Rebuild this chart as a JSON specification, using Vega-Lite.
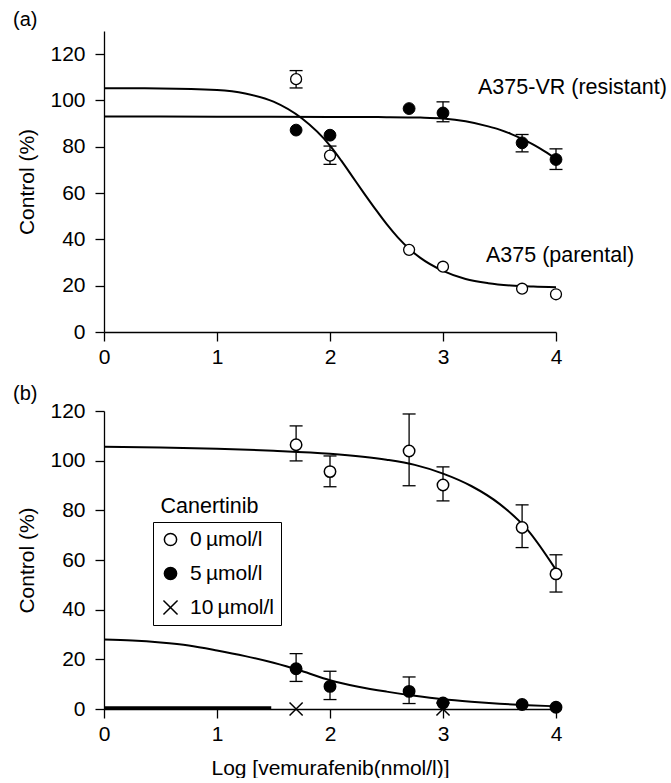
{
  "$schema": "https://vega.github.io/schema/vega-lite/v6.json",
  "padding": {"left": 13, "top": 10, "right": 0, "bottom": 0},
  "spacing": 17,
  "resolve": {"legend": {"shape": "independent", "fill": "independent", "stroke": "independent"}, "scale": {"shape": "independent", "fill": "independent", "stroke": "independent"}},
  "config": {
    "font": "Liberation Sans",
    "view": {"stroke": null},
    "axis": {"domainColor": "black", "domainWidth": 1.3, "tickColor": "black", "tickWidth": 1.3, "tickSize": 9, "labelFontSize": 21, "labelColor": "black", "titleFontSize": 21, "titleFontWeight": "normal", "titleColor": "black", "grid": false, "labelFont": "Liberation Sans", "titleFont": "Liberation Sans"},
    "axisY": {"labelPadding": 10, "titlePadding": 12},
    "axisX": {"labelPadding": 5, "titlePadding": 13, "labelFlush": false, "format": "d"},
    "title": {"fontSize": 20, "fontWeight": "normal", "anchor": "start", "color": "black", "font": "Liberation Sans"},
    "text": {"font": "Liberation Sans", "fontSize": 21.5, "color": "black"}
  },
  "datasets": {
    "ptsA": [
      {"series": "parental", "x": 1.7, "y": 109.2, "ylo": 105.4, "yhi": 112.9},
      {"series": "parental", "x": 2.0, "y": 76.2, "ylo": 72.4, "yhi": 80.3},
      {"series": "parental", "x": 2.7, "y": 35.5},
      {"series": "parental", "x": 3.0, "y": 28.2},
      {"series": "parental", "x": 3.7, "y": 18.7},
      {"series": "parental", "x": 4.0, "y": 16.3},
      {"series": "resistant", "x": 1.7, "y": 87.2},
      {"series": "resistant", "x": 2.0, "y": 85.0},
      {"series": "resistant", "x": 2.7, "y": 96.5},
      {"series": "resistant", "x": 3.0, "y": 94.6, "ylo": 90.8, "yhi": 99.4},
      {"series": "resistant", "x": 3.7, "y": 81.7, "ylo": 77.8, "yhi": 85.3},
      {"series": "resistant", "x": 4.0, "y": 74.5, "ylo": 70.2, "yhi": 79.1}
    ],
    "curveA": [
      {"series": "parental", "x": 0, "y": 105.3},
      {"series": "parental", "x": 0.5, "y": 105.2},
      {"series": "parental", "x": 1.0, "y": 104.5},
      {"series": "parental", "x": 1.25, "y": 103.0},
      {"series": "parental", "x": 1.5, "y": 99.5},
      {"series": "parental", "x": 1.75, "y": 92.3},
      {"series": "parental", "x": 2.0, "y": 80.5},
      {"series": "parental", "x": 2.1, "y": 74.0},
      {"series": "parental", "x": 2.2, "y": 67.0},
      {"series": "parental", "x": 2.3, "y": 60.0},
      {"series": "parental", "x": 2.4, "y": 53.2},
      {"series": "parental", "x": 2.5, "y": 46.7},
      {"series": "parental", "x": 2.6, "y": 40.9},
      {"series": "parental", "x": 2.7, "y": 36.0},
      {"series": "parental", "x": 2.8, "y": 32.0},
      {"series": "parental", "x": 3.0, "y": 26.4},
      {"series": "parental", "x": 3.2, "y": 22.9},
      {"series": "parental", "x": 3.4, "y": 21.1},
      {"series": "parental", "x": 3.6, "y": 20.1},
      {"series": "parental", "x": 3.8, "y": 19.6},
      {"series": "parental", "x": 4.0, "y": 19.3},
      {"series": "resistant", "x": 0, "y": 93.1},
      {"series": "resistant", "x": 1.0, "y": 93.0},
      {"series": "resistant", "x": 2.0, "y": 92.9},
      {"series": "resistant", "x": 2.5, "y": 92.8},
      {"series": "resistant", "x": 2.8, "y": 92.6},
      {"series": "resistant", "x": 3.0, "y": 92.2},
      {"series": "resistant", "x": 3.2, "y": 91.0},
      {"series": "resistant", "x": 3.4, "y": 88.8},
      {"series": "resistant", "x": 3.5, "y": 87.4},
      {"series": "resistant", "x": 3.6, "y": 85.6},
      {"series": "resistant", "x": 3.7, "y": 83.4},
      {"series": "resistant", "x": 3.8, "y": 80.9},
      {"series": "resistant", "x": 3.9, "y": 78.0},
      {"series": "resistant", "x": 4.0, "y": 74.8}
    ],
    "labelsA": [
      {"x": 3.31, "y": 105.2, "label": "A375-VR (resistant)"},
      {"x": 3.38, "y": 32.8, "label": "A375 (parental)"}
    ],
    "ptsB": [
      {"canertinib": "10\u2009µmol/l", "x": 1.7, "y": 0},
      {"canertinib": "10\u2009µmol/l", "x": 3.0, "y": 0},
      {"canertinib": "0\u2009µmol/l", "x": 1.7, "y": 106.4, "ylo": 99.9, "yhi": 114.0},
      {"canertinib": "0\u2009µmol/l", "x": 2.0, "y": 95.6, "ylo": 89.5, "yhi": 101.9},
      {"canertinib": "0\u2009µmol/l", "x": 2.7, "y": 103.9, "ylo": 89.9, "yhi": 118.8},
      {"canertinib": "0\u2009µmol/l", "x": 3.0, "y": 90.2, "ylo": 83.8, "yhi": 97.5},
      {"canertinib": "0\u2009µmol/l", "x": 3.7, "y": 73.1, "ylo": 65.0, "yhi": 82.2},
      {"canertinib": "0\u2009µmol/l", "x": 4.0, "y": 54.4, "ylo": 47.1, "yhi": 62.1},
      {"canertinib": "5\u2009µmol/l", "x": 1.7, "y": 16.2, "ylo": 11.1, "yhi": 22.3},
      {"canertinib": "5\u2009µmol/l", "x": 2.0, "y": 9.1, "ylo": 3.8, "yhi": 15.2},
      {"canertinib": "5\u2009µmol/l", "x": 2.7, "y": 7.1, "ylo": 2.2, "yhi": 12.9},
      {"canertinib": "5\u2009µmol/l", "x": 3.0, "y": 2.4},
      {"canertinib": "5\u2009µmol/l", "x": 3.7, "y": 1.8},
      {"canertinib": "5\u2009µmol/l", "x": 4.0, "y": 0.7}
    ],
    "curveB": [
      {"series": "c0", "x": 0, "y": 105.6},
      {"series": "c0", "x": 0.5, "y": 105.3},
      {"series": "c0", "x": 1.0, "y": 104.8},
      {"series": "c0", "x": 1.5, "y": 104.0},
      {"series": "c0", "x": 2.0, "y": 102.8},
      {"series": "c0", "x": 2.5, "y": 100.4},
      {"series": "c0", "x": 2.75, "y": 98.3},
      {"series": "c0", "x": 3.0, "y": 94.8},
      {"series": "c0", "x": 3.25, "y": 89.8},
      {"series": "c0", "x": 3.5, "y": 82.6},
      {"series": "c0", "x": 3.75, "y": 72.0},
      {"series": "c0", "x": 4.0, "y": 56.0},
      {"series": "c5", "x": 0, "y": 28.0},
      {"series": "c5", "x": 0.25, "y": 27.6},
      {"series": "c5", "x": 0.5, "y": 26.8},
      {"series": "c5", "x": 0.75, "y": 25.6},
      {"series": "c5", "x": 1.0, "y": 23.6},
      {"series": "c5", "x": 1.25, "y": 21.3},
      {"series": "c5", "x": 1.5, "y": 18.6},
      {"series": "c5", "x": 1.75, "y": 15.3},
      {"series": "c5", "x": 2.0, "y": 11.6},
      {"series": "c5", "x": 2.25, "y": 9.0},
      {"series": "c5", "x": 2.5, "y": 7.0},
      {"series": "c5", "x": 2.75, "y": 5.3},
      {"series": "c5", "x": 3.0, "y": 3.9},
      {"series": "c5", "x": 3.25, "y": 2.9},
      {"series": "c5", "x": 3.5, "y": 2.1},
      {"series": "c5", "x": 3.75, "y": 1.5},
      {"series": "c5", "x": 4.0, "y": 1.1}
    ],
    "curveB10": [
      {"x": 0, "y": 0.4},
      {"x": 1.48, "y": 0.4}
    ],
    "labelsB": [
      {"x": 0.5, "y": 81.5, "label": "Canertinib"}
    ]
  },
  "vconcat": [
    {
      "width": 452,
      "height": 301,
      "title": {"text": "(a)", "dx": -91, "frame": "group", "offset": 1},
      "layer": [
        {
          "data": {"name": "curveA"},
          "mark": {"type": "line", "color": "black", "strokeWidth": 2, "interpolate": "monotone"},
          "encoding": {
            "x": {"field": "x", "type": "quantitative", "scale": {"domain": [0, 4]}, "axis": {"values": [0, 1, 2, 3, 4], "title": null}},
            "y": {"field": "y", "type": "quantitative", "scale": {"domain": [0, 130]}, "axis": {"values": [0, 20, 40, 60, 80, 100, 120], "title": "Control (%)"}},
            "detail": {"field": "series"}
          }
        },
        {
          "data": {"name": "ptsA"},
          "transform": [{"filter": "isValid(datum.ylo)"}],
          "mark": {"type": "rule", "color": "black", "strokeWidth": 1.3},
          "encoding": {
            "x": {"field": "x", "type": "quantitative", "scale": {"domain": [0, 4]}},
            "y": {"field": "ylo", "type": "quantitative", "scale": {"domain": [0, 130]}},
            "y2": {"field": "yhi"}
          }
        },
        {
          "data": {"name": "ptsA"},
          "transform": [{"filter": "isValid(datum.ylo)"}],
          "mark": {"type": "tick", "orient": "horizontal", "color": "black", "size": 13, "thickness": 1.3, "opacity": 1},
          "encoding": {
            "x": {"field": "x", "type": "quantitative", "scale": {"domain": [0, 4]}},
            "y": {"field": "ylo", "type": "quantitative", "scale": {"domain": [0, 130]}}
          }
        },
        {
          "data": {"name": "ptsA"},
          "transform": [{"filter": "isValid(datum.yhi)"}],
          "mark": {"type": "tick", "orient": "horizontal", "color": "black", "size": 13, "thickness": 1.3, "opacity": 1},
          "encoding": {
            "x": {"field": "x", "type": "quantitative", "scale": {"domain": [0, 4]}},
            "y": {"field": "yhi", "type": "quantitative", "scale": {"domain": [0, 130]}}
          }
        },
        {
          "data": {"name": "ptsA"},
          "transform": [{"filter": "datum.series == 'parental'"}],
          "mark": {"type": "point", "shape": "circle", "fill": "white", "stroke": "black", "strokeWidth": 1.3, "size": 120, "opacity": 1, "fillOpacity": 1},
          "encoding": {
            "x": {"field": "x", "type": "quantitative", "scale": {"domain": [0, 4]}},
            "y": {"field": "y", "type": "quantitative", "scale": {"domain": [0, 130]}}
          }
        },
        {
          "data": {"name": "ptsA"},
          "transform": [{"filter": "datum.series == 'resistant'"}],
          "mark": {"type": "point", "shape": "circle", "fill": "black", "stroke": "black", "strokeWidth": 1, "size": 140, "opacity": 1, "fillOpacity": 1},
          "encoding": {
            "x": {"field": "x", "type": "quantitative", "scale": {"domain": [0, 4]}},
            "y": {"field": "y", "type": "quantitative", "scale": {"domain": [0, 130]}}
          }
        },
        {
          "data": {"name": "labelsA"},
          "mark": {"type": "text", "align": "left", "baseline": "middle", "fontSize": 21.5},
          "encoding": {
            "x": {"field": "x", "type": "quantitative", "scale": {"domain": [0, 4]}},
            "y": {"field": "y", "type": "quantitative", "scale": {"domain": [0, 130]}},
            "text": {"field": "label"}
          }
        }
      ]
    },
    {
      "width": 452,
      "height": 298,
      "title": {"text": "(b)", "dx": -91, "frame": "group", "offset": -4},
      "layer": [
        {
          "data": {"name": "curveB"},
          "mark": {"type": "line", "color": "black", "strokeWidth": 2, "interpolate": "monotone"},
          "encoding": {
            "x": {"field": "x", "type": "quantitative", "scale": {"domain": [0, 4]}, "axis": {"values": [0, 1, 2, 3, 4], "title": "Log [vemurafenib(nmol/l)]"}},
            "y": {"field": "y", "type": "quantitative", "scale": {"domain": [0, 120]}, "axis": {"values": [0, 20, 40, 60, 80, 100, 120], "title": "Control (%)"}},
            "detail": {"field": "series"}
          }
        },
        {
          "data": {"name": "curveB10"},
          "mark": {"type": "line", "color": "black", "strokeWidth": 3.5},
          "encoding": {
            "x": {"field": "x", "type": "quantitative", "scale": {"domain": [0, 4]}},
            "y": {"field": "y", "type": "quantitative", "scale": {"domain": [0, 120]}}
          }
        },
        {
          "data": {"name": "ptsB"},
          "transform": [{"filter": "isValid(datum.ylo)"}],
          "mark": {"type": "rule", "color": "black", "strokeWidth": 1.3},
          "encoding": {
            "x": {"field": "x", "type": "quantitative", "scale": {"domain": [0, 4]}},
            "y": {"field": "ylo", "type": "quantitative", "scale": {"domain": [0, 120]}},
            "y2": {"field": "yhi"}
          }
        },
        {
          "data": {"name": "ptsB"},
          "transform": [{"filter": "isValid(datum.ylo)"}],
          "mark": {"type": "tick", "orient": "horizontal", "color": "black", "size": 13, "thickness": 1.3, "opacity": 1},
          "encoding": {
            "x": {"field": "x", "type": "quantitative", "scale": {"domain": [0, 4]}},
            "y": {"field": "ylo", "type": "quantitative", "scale": {"domain": [0, 120]}}
          }
        },
        {
          "data": {"name": "ptsB"},
          "transform": [{"filter": "isValid(datum.yhi)"}],
          "mark": {"type": "tick", "orient": "horizontal", "color": "black", "size": 13, "thickness": 1.3, "opacity": 1},
          "encoding": {
            "x": {"field": "x", "type": "quantitative", "scale": {"domain": [0, 4]}},
            "y": {"field": "yhi", "type": "quantitative", "scale": {"domain": [0, 120]}}
          }
        },
        {
          "data": {"name": "ptsB"},
          "mark": {"type": "point", "strokeWidth": 1.5, "size": 130, "opacity": 1, "fillOpacity": 1, "strokeOpacity": 1},
          "encoding": {
            "x": {"field": "x", "type": "quantitative", "scale": {"domain": [0, 4]}},
            "y": {"field": "y", "type": "quantitative", "scale": {"domain": [0, 120]}},
            "shape": {
              "field": "canertinib", "type": "nominal",
              "scale": {"domain": ["0\u2009µmol/l", "5\u2009µmol/l", "10\u2009µmol/l"], "range": ["circle", "circle", "M-1.15,-1.15L1.15,1.15M-1.15,1.15L1.15,-1.15"]},
              "legend": {"title": null, "orient": "none", "legendX": 49, "legendY": 111, "strokeColor": "black", "padding": 7, "labelFontSize": 21, "labelColor": "black", "labelFont": "Liberation Sans", "symbolSize": 150, "rowPadding": 12, "labelOffset": 9, "symbolStrokeWidth": 1.5}
            },
            "fill": {
              "field": "canertinib", "type": "nominal",
              "scale": {"domain": ["0\u2009µmol/l", "5\u2009µmol/l", "10\u2009µmol/l"], "range": ["white", "black", "black"]},
              "legend": {"title": null, "orient": "none", "legendX": 49, "legendY": 111, "strokeColor": "black", "padding": 7, "labelFontSize": 21, "labelColor": "black", "labelFont": "Liberation Sans", "symbolSize": 150, "rowPadding": 12, "labelOffset": 9, "symbolStrokeWidth": 1.5}
            },
            "stroke": {
              "field": "canertinib", "type": "nominal",
              "scale": {"domain": ["0\u2009µmol/l", "5\u2009µmol/l", "10\u2009µmol/l"], "range": ["black", "black", "black"]},
              "legend": {"title": null, "orient": "none", "legendX": 49, "legendY": 111, "strokeColor": "black", "padding": 7, "labelFontSize": 21, "labelColor": "black", "labelFont": "Liberation Sans", "symbolSize": 150, "rowPadding": 12, "labelOffset": 9, "symbolStrokeWidth": 1.5}
            }
          }
        },
        {
          "data": {"name": "labelsB"},
          "mark": {"type": "text", "align": "left", "baseline": "middle", "fontSize": 21.5},
          "encoding": {
            "x": {"field": "x", "type": "quantitative", "scale": {"domain": [0, 4]}},
            "y": {"field": "y", "type": "quantitative", "scale": {"domain": [0, 120]}},
            "text": {"field": "label"}
          }
        }
      ]
    }
  ]
}
